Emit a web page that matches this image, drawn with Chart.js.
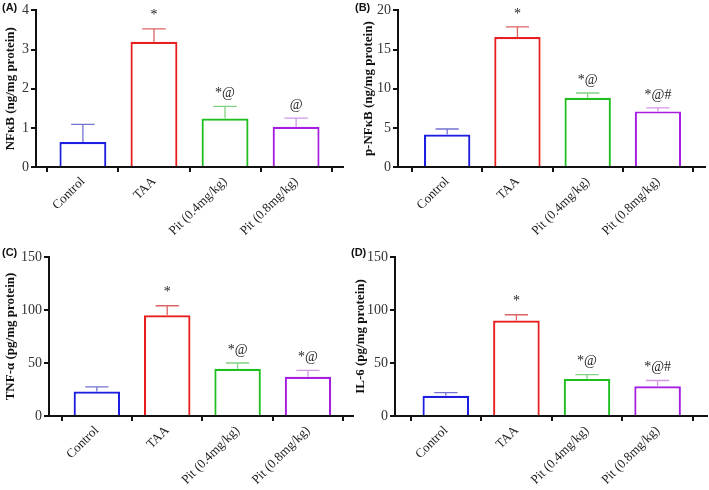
<!DOCTYPE html>
<html>
<head>
<meta charset="utf-8">
<script src="https://cdn.jsdelivr.net/npm/chart.js@4.4.0/dist/chart.umd.min.js"></script>
<style>
  html, body { margin: 0; padding: 0; background: #fff; }
  #wrap { position: relative; width: 709px; height: 490px; overflow: hidden; }
  .panel { position: absolute; }
  .tag { position: absolute; font: bold 11px "Liberation Sans", Arial, sans-serif; color: #111; }
</style>
</head>
<body>
<div id="wrap">
  <div class="panel" style="left:0;top:0;width:354px;height:245px"><canvas id="cA"></canvas></div>
  <div class="panel" style="left:355px;top:0;width:354px;height:245px"><canvas id="cB"></canvas></div>
  <div class="panel" style="left:0;top:245px;width:355px;height:245px"><canvas id="cC"></canvas></div>
  <div class="panel" style="left:355px;top:245px;width:354px;height:245px"><canvas id="cD"></canvas></div>
  <span class="tag" style="left:2px;top:1px">(A)</span>
  <span class="tag" style="left:355px;top:1px">(B)</span>
  <span class="tag" style="left:2px;top:246px">(C)</span>
  <span class="tag" style="left:351px;top:246px">(D)</span>
</div>
<script>
const groups = ["Control", "TAA", "Pit (0.4mg/kg)", "Pit (0.8mg/kg)"];
const barColors = ["rgb(30,30,225)", "rgb(232,30,30)", "rgb(30,190,30)", "rgb(165,30,225)"];
const errColors = ["rgb(115,115,210)", "rgb(220,100,100)", "rgb(130,210,130)", "rgb(210,150,230)"];

// (A) NFκB
const nfkbMean = [0.64, 3.2, 1.24, 1.03];
const nfkbErr = [0.45, 0.33, 0.31, 0.22];
const nfkbMarks = ["", "*", "*@", "@"];
// (B) p-NFκB
const pnfkbMean = [4.15, 16.6, 8.85, 7.1];
const pnfkbErr = [0.7, 1.3, 0.6, 0.45];
const pnfkbMarks = ["", "*", "*@", "*@#"];
// (C) TNF-α
const tnfMean = [23, 95, 44.5, 37];
const tnfErr = [4.5, 9, 5.5, 6];
const tnfMarks = ["", "*", "*@", "*@"];
// (D) IL-6
const il6Mean = [19, 90, 35, 28];
const il6Err = [3, 5.5, 4, 5.5];
const il6Marks = ["", "*", "*@", "*@#"];

const serif = "'Liberation Serif', 'Times New Roman', serif";

// error bars (upper only) and significance marks
const errorPlugin = {
    id: 'errorBars',
    afterDatasetsDraw(chart) {
        const ctx = chart.ctx;
        const y = chart.scales.y;
        const meta = chart.getDatasetMeta(0);
        const ds = chart.data.datasets[0];
        meta.data.forEach((el, i) => {
            const top = y.getPixelForValue(ds.means[i] + ds.errs[i]);
            const half = el.width / 4;
            ctx.save();
            ctx.strokeStyle = errColors[i];
            ctx.lineWidth = 1.3;
            ctx.beginPath();
            ctx.moveTo(el.x, el.y);
            ctx.lineTo(el.x, top);
            ctx.moveTo(el.x - half, top);
            ctx.lineTo(el.x + half, top);
            ctx.stroke();
            if (ds.marks[i]) {
                ctx.fillStyle = '#222';
                ctx.font = '14px ' + serif;
                ctx.textAlign = 'center';
                ctx.textBaseline = 'bottom';
                ctx.fillText(ds.marks[i], el.x, top - 6);
            }
            ctx.restore();
        });
    }
};

function makePanel(id, means, errs, marks, opt) {
    const ctx = document.getElementById(id).getContext('2d');
    return new Chart(ctx, {
        type: 'bar',
        data: {
            datasets: [{
                data: means.map((v, i) => ({x: i, y: v})),
                means: means,
                errs: errs,
                marks: marks,
                backgroundColor: '#fff',
                borderColor: barColors,
                borderWidth: 2.2,
                borderSkipped: 'start',
                barPercentage: 0.66,
                categoryPercentage: 1
            }]
        },
        plugins: [errorPlugin],
        options: {
            responsive: true,
            maintainAspectRatio: false,
            animation: false,
            events: [],
            layout: {
                padding: {top: opt.top, right: opt.right, left: 0, bottom: 0}
            },
            plugins: {
                legend: {display: false},
                tooltip: {enabled: false}
            },
            scales: {
                x: {
                    type: 'linear',
                    offset: false,
                    min: opt.xmin,
                    max: opt.xmax,
                    afterBuildTicks: s => { s.ticks = groups.map((g, i) => ({value: i})); },
                    afterFit: s => { s.height = opt.xh; },
                    border: {color: '#111', width: 2},
                    grid: {drawOnChartArea: false, drawTicks: true, tickLength: 5, color: '#111', lineWidth: 2},
                    ticks: {
                        callback: v => groups[v],
                        minRotation: 45,
                        maxRotation: 45,
                        autoSkip: false,
                        padding: 2,
                        color: '#222',
                        font: {family: serif, size: 13}
                    }
                },
                y: {
                    min: 0,
                    max: opt.ymax,
                    afterFit: s => { s.width = opt.yw; },
                    border: {color: '#111', width: 2},
                    grid: {drawOnChartArea: false, drawTicks: true, tickLength: 5, color: '#111', lineWidth: 2},
                    ticks: {
                        stepSize: opt.step,
                        padding: 2,
                        color: '#333',
                        font: {family: serif, size: 14}
                    },
                    title: {
                        display: true,
                        text: opt.title,
                        color: '#111',
                        padding: {top: opt.tpad, bottom: 0},
                        font: {family: serif, size: 13, weight: 'bold'}
                    }
                }
            }
        }
    });
}

makePanel('cA', nfkbMean, nfkbErr, nfkbMarks,
    {title: 'NFκB (ng/mg protein)', ymax: 4, step: 1, yw: 36, xh: 78, top: 8, right: 11, xmin: -0.66, xmax: 3.66, tpad: 3});
makePanel('cB', pnfkbMean, pnfkbErr, pnfkbMarks,
    {title: 'p-NFκB (ng/mg protein)', ymax: 20, step: 5, yw: 43, xh: 78, top: 8, right: 4, xmin: -0.7, xmax: 3.67, tpad: 6});
makePanel('cC', tnfMean, tnfErr, tnfMarks,
    {title: 'TNF-α (pg/mg protein)', ymax: 150, step: 50, yw: 49, xh: 74, top: 12, right: 2, xmin: -0.68, xmax: 3.64, tpad: 3});
makePanel('cD', il6Mean, il6Err, il6Marks,
    {title: 'IL-6 (pg/mg protein)', ymax: 150, step: 50, yw: 40, xh: 74, top: 12, right: 2, xmin: -0.72, xmax: 3.7, tpad: -2});
</script>
</body>
</html>
